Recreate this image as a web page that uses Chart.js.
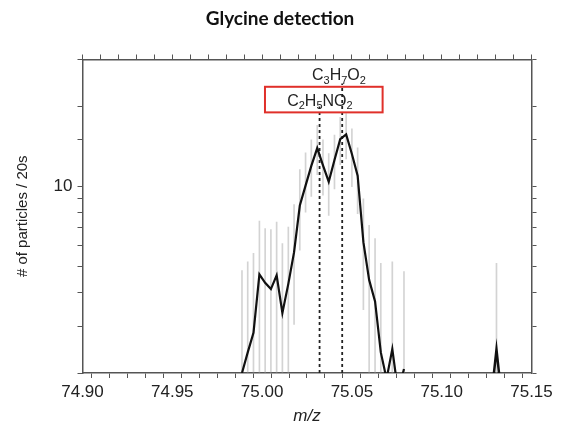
<!DOCTYPE html>
<html>
<head>
<meta charset="utf-8">
<script src="https://cdn.jsdelivr.net/npm/chart.js@4"></script>
<style>
  html, body { margin: 0; padding: 0; background: #fff; }
</style>
</head>
<body>
<canvas id="myChart" width="569" height="425"></canvas>
<script>
// m/z bins of the spectrum and counts per bin
const mzValues = [74.9888, 74.9920, 74.9952, 74.9985, 75.0017, 75.0049, 75.0081, 75.0113, 75.0146, 75.0178,
                  75.0210, 75.0242, 75.0274, 75.0307, 75.0339, 75.0371, 75.0403, 75.0435, 75.0468, 75.0500,
                  75.0532, 75.0564, 75.0596, 75.0629, 75.0661, 75.0693, 75.0725, 75.0757, 75.0790];
const counts = [2.0, 2.39, 2.83, 4.69, 4.36, 4.13, 4.65, 3.36, 4.32, 5.68,
                8.50, 10.09, 11.97, 13.96, 12.02, 10.44, 12.6, 15.08, 15.70, 13.27,
                10.99, 6.19, 4.47, 3.71, 2.39, 1.9, 2.46, 1.7, 2.07];
// error bars (null = no bar)
const errLow = [1, 1, 1, 1, 1, 1, 1, 1, 1, 3.04,
                5.78, 8.02, 9.2, 11.1, 9.3, 7.8, 9.8, 12.1, 12.7, 10.0,
                7.92, 3.46, 1, 1, 1, null, 1, null, 1];
const errHigh = [4.84, 5.23, 5.62, 7.43, 6.96, 6.90, 7.37, 6.12, 7.06, 8.57,
                 11.6, 13.4, 15.0, 17.0, 15.0, 13.3, 15.6, 18.2, 18.8, 16.5,
                 14.0, 9.0, 7.16, 6.39, 5.16, null, 5.23, null, 4.80];

// lone peak near 75.13
const spikeMz = [75.1273, 75.1305, 75.1337];
const spikeCounts = [1.55, 2.45, 1.55];
const spikeErrLow = [1];
const spikeErrHigh = [5.16];

// reference masses
const markerMz = [75.0320, 75.0446];
const markerTop = [20.0, 24.4];
const markerLabels = ['C2H5NO2', 'C3H7O2'];

const chartTitle = 'Glycine detection';
const yTitle = '# of particles / 20s';
const xTitle = 'm/z';

const textColor = '#222';
const axisColor = '#555';

function drawFormula(ctx, text, cx, cy) {
    const big = '16px "Liberation Sans"';
    const small = '11px "Liberation Sans"';
    const parts = text.split('').map(ch => [ch, /\d/.test(ch)]);
    let w = 0;
    parts.forEach(([ch, sub]) => { ctx.font = sub ? small : big; w += ctx.measureText(ch).width; });
    let px = cx - w / 2;
    ctx.textAlign = 'left';
    ctx.textBaseline = 'middle';
    ctx.fillStyle = textColor;
    parts.forEach(([ch, sub]) => {
        ctx.font = sub ? small : big;
        ctx.fillText(ch, px, sub ? cy + 5 : cy);
        px += ctx.measureText(ch).width;
    });
}

const formulaPlugin = {
    id: 'formulaLabels',
    afterDatasetsDraw: (chart) => {
        const {ctx, scales: {x, y}} = chart;
        ctx.save();
        const bx1 = x.getPixelForValue(75.0016);
        const bx2 = x.getPixelForValue(75.0671);
        const by1 = y.getPixelForValue(23.7);
        const by2 = y.getPixelForValue(19.0);
        ctx.strokeStyle = '#e0302a';
        ctx.lineWidth = 2;
        ctx.strokeRect(bx1, by1, bx2 - bx1, by2 - by1);
        drawFormula(ctx, markerLabels[0], x.getPixelForValue(75.0322), y.getPixelForValue(20.9));
        drawFormula(ctx, markerLabels[1], x.getPixelForValue(75.0428), y.getPixelForValue(26.1));
        ctx.restore();
    }
};

const lineData = mzValues.map((m, i) => ({x: m, y: counts[i]}));
const errData = [];
mzValues.forEach((m, i) => {
    if (errHigh[i] !== null) errData.push({x: m, y: [errLow[i], errHigh[i]]});
});
errData.push({x: spikeMz[1], y: [spikeErrLow[0], spikeErrHigh[0]]});

const markerSets = markerMz.map((m, i) => ({
    type: 'line',
    data: [{x: m, y: 2}, {x: m, y: markerTop[i]}],
    borderColor: '#222',
    borderWidth: 1.8,
    borderDash: [3, 3],
    pointRadius: 0,
    clip: 0
}));

const tickGrid = {
    drawOnChartArea: false,
    drawTicks: true,
    tickLength: 5,
    color: axisColor,
    lineWidth: 1
};
const border = {display: true, color: axisColor, width: 1.5};

new Chart(document.getElementById('myChart'), {
    type: 'line',
    data: {
        datasets: [
            {
                type: 'line',
                data: lineData,
                borderColor: '#111',
                borderWidth: 2.2,
                pointRadius: 0,
                tension: 0,
                clip: 0
            },
            {
                type: 'line',
                data: spikeMz.map((m, i) => ({x: m, y: spikeCounts[i]})),
                borderColor: '#111',
                borderWidth: 2.5,
                pointRadius: 0,
                clip: 0
            },
            ...markerSets,
            {
                type: 'bar',
                data: errData,
                backgroundColor: 'rgba(150,150,150,0.42)',
                borderWidth: 0,
                barThickness: 1,
                clip: 0
            }
        ]
    },
    options: {
        responsive: false,
        animation: false,
        layout: {padding: {top: 0, left: 0, right: 9, bottom: 0}},
        plugins: {
            legend: {display: false},
            tooltip: {enabled: false},
            title: {
                display: true,
                text: chartTitle,
                color: '#111',
                font: {family: 'Lato', size: 19, weight: 'bold', lineHeight: 1.2},
                padding: {top: 7, bottom: 10}
            }
        },
        scales: {
            x: {
                type: 'linear',
                position: 'bottom',
                min: 74.90,
                max: 75.15,
                offset: false,
                afterFit: (s) => { s.height = 52; },
                grid: tickGrid,
                border: border,
                ticks: {
                    stepSize: 0.01,
                    autoSkip: false,
                    maxRotation: 0,
                    padding: 4,
                    color: textColor,
                    font: {family: 'Liberation Sans', size: 17},
                    callback: (v) => Math.round(v * 100) % 5 === 0 ? v.toFixed(2) : ''
                },
                title: {
                    display: true,
                    text: xTitle,
                    color: textColor,
                    font: {family: 'Liberation Sans', size: 17, style: 'italic', lineHeight: 1},
                    padding: {top: 0, bottom: 0}
                }
            },
            x2: {
                type: 'linear',
                position: 'top',
                min: 74.90,
                max: 75.15,
                afterFit: (s) => { s.height = 19.7; },
                grid: tickGrid,
                border: border,
                ticks: {stepSize: 0.01, autoSkip: false, display: false}
            },
            y: {
                type: 'logarithmic',
                position: 'left',
                min: 2,
                max: 30,
                afterFit: (s) => { s.width = 82.5; },
                grid: tickGrid,
                border: border,
                ticks: {
                    autoSkip: false,
                    padding: 5,
                    color: textColor,
                    font: {family: 'Liberation Sans', size: 17},
                    callback: (v) => v === 10 ? '10' : ''
                },
                title: {
                    display: true,
                    text: yTitle,
                    color: textColor,
                    font: {family: 'Liberation Sans', size: 15, lineHeight: 1.2},
                    padding: {top: 14, bottom: 0}
                }
            },
            y2: {
                type: 'logarithmic',
                position: 'right',
                min: 2,
                max: 30,
                afterFit: (s) => { s.width = 28.5; },
                grid: tickGrid,
                border: border,
                ticks: {autoSkip: false, display: false}
            }
        }
    },
    plugins: [formulaPlugin]
});
</script>
</body>
</html>
